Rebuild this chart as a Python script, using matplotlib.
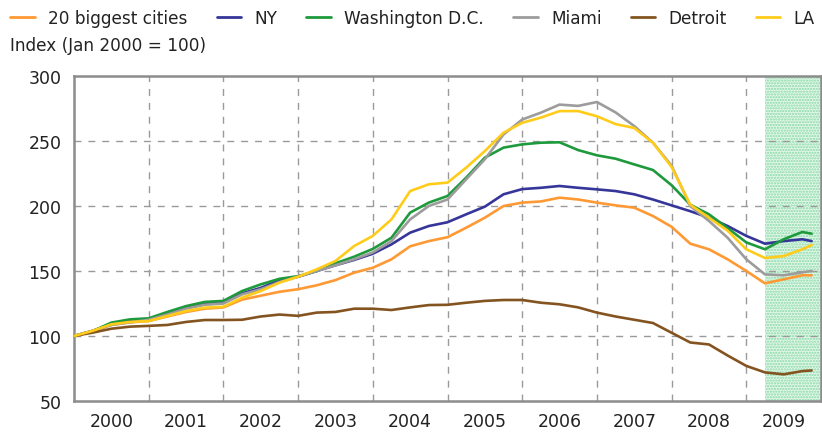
import numpy as np
import matplotlib
matplotlib.use("Agg")
import matplotlib.pyplot as plt

# Quarterly positions (decimal years) from Jan 2000, plus final observation
quarters = list(np.arange(2000.0, 2009.76, 0.25)) + [2009.875]

biggest20 = [100, 104, 108.5, 110.5, 111.5, 115, 118.5, 121, 122, 128, 131, 134,
             136, 139, 143, 148.7, 152.5, 159, 169, 173, 176, 183.3, 191, 200,
             202.6, 203.5, 206.4, 205, 202.6, 200.5, 198.7, 192.3, 184, 171, 166.7, 159,
             150, 140.5, 143.6, 146.7, 146.7]
ny = [100, 104, 109, 111.5, 112.8, 117.4, 121.8, 124.9, 125.5, 132.8, 137, 143,
      145.6, 150, 154.4, 158.5, 163.3, 170.5, 179.5, 184.6, 187.5, 193.6, 199.5, 209,
      213, 214, 215.4, 214, 212.8, 211.5, 209, 205, 200.5, 196, 191, 184.6,
      177, 171, 173, 174.4, 173]
washington = [100, 103.8, 110.3, 112.8, 113.6, 118.5, 123, 126.2, 127, 134.6, 139.7, 144,
              146, 150, 155.9, 161, 167, 175.6, 194.9, 202.6, 207.7, 221.8, 237.2, 244.9,
              247.4, 248.7, 249, 243, 239, 236.4, 232, 227.7, 216, 201, 193.6, 183,
              172, 166.7, 174.4, 180, 178.7]
miami = [100, 103.8, 108.5, 110.5, 112.5, 116.5, 121, 124, 125, 132, 136, 141.5,
         145.6, 150, 154.4, 159, 164.3, 173, 189.7, 200, 205, 220.5, 236, 255,
         266.5, 271.8, 278, 277, 280, 272, 261.5, 248.7, 231, 200, 188.5, 175.6,
         159, 147.4, 146.7, 149, 150]
detroit = [100, 102.6, 105.6, 107.2, 107.8, 108.5, 110.8, 112.3, 112.3, 112.5, 115, 116.5,
           115.5, 118, 118.5, 121, 121, 120, 122, 123.8, 124, 125.6, 127, 127.7,
           127.7, 125.6, 124.4, 122, 118, 115, 112.5, 110, 102.5, 95, 93.5, 85,
           77, 72, 70.5, 73, 73.5]
la = [100, 104, 109, 110.8, 111.5, 115.4, 119.2, 121.8, 122.5, 129.5, 134.6, 141,
      145.6, 151.3, 157.7, 169.2, 177, 189.7, 211.5, 216.7, 218, 229.5, 242.3, 256.4,
      264, 268, 273, 273, 269, 263, 260, 248.7, 230, 201, 191, 181,
      166.7, 160, 161.5, 166.7, 170]

series_names = ["20 biggest cities", "NY", "Washington D.C.", "Miami", "Detroit", "LA"]
series_vals = [biggest20, ny, washington, miami, detroit, la]
series_colors = ["#FF9933", "#36369A", "#1E9A3C", "#9C9C9C", "#845420", "#FFCC1A"]

year_labels = [str(y) for y in range(2000, 2010)]
forecast_start = 2009.25

plt.rcParams['font.family'] = ['DejaVu Sans']
plt.rcParams['hatch.linewidth'] = 1.1

fig = plt.figure(figsize=(8.22, 4.35), dpi=100)
ax = fig.add_axes([74/822, 1-402/435, (821-74)/822, (402-77)/435])

ax.axvspan(forecast_start, 2010, facecolor="#e4f7ea", edgecolor="#86d9a5",
           hatch="......", linewidth=0, zorder=0)

for name, vals, col in zip(series_names, series_vals, series_colors):
    ax.plot(quarters, vals, color=col, lw=1.9, label=name, zorder=3,
            solid_joinstyle='round', solid_capstyle='round')

ax.set_xlim(2000, 2010)
ax.set_ylim(50, 300)
ax.set_yticks([50, 100, 150, 200, 250, 300])
ax.set_xticks(np.arange(2000.5, 2010, 1.0))
ax.set_xticklabels(year_labels)
ax.tick_params(length=0, labelsize=12.5, colors="#222222")
ax.tick_params(axis='x', pad=8)
ax.tick_params(axis='y', pad=9)

for yr in range(2001, 2010):
    ax.axvline(yr, color="#9a9a9a", lw=1.0, ls=(0, (5, 5)), zorder=1)
for yv in [100, 150, 200, 250]:
    ax.axhline(yv, color="#9a9a9a", lw=1.0, ls=(0, (5, 5)), zorder=1)

for s in ax.spines.values():
    s.set_color("#8c8c8c")
    s.set_linewidth(1.8)

leg = fig.legend(loc="upper left", bbox_to_anchor=(-0.002, 1.005), ncol=6, frameon=False,
                 handlelength=1.45, handletextpad=0.8, columnspacing=1.7,
                 fontsize=12.2, labelcolor="#222222", borderaxespad=0.3)
for line in leg.get_lines():
    line.set_linewidth(2.0)

fig.text(10/822, 1-46/435, "Index (Jan 2000 = 100)", fontsize=12.2, color="#222222",
         va="center", ha="left")

fig.savefig("out.png", dpi=100)
